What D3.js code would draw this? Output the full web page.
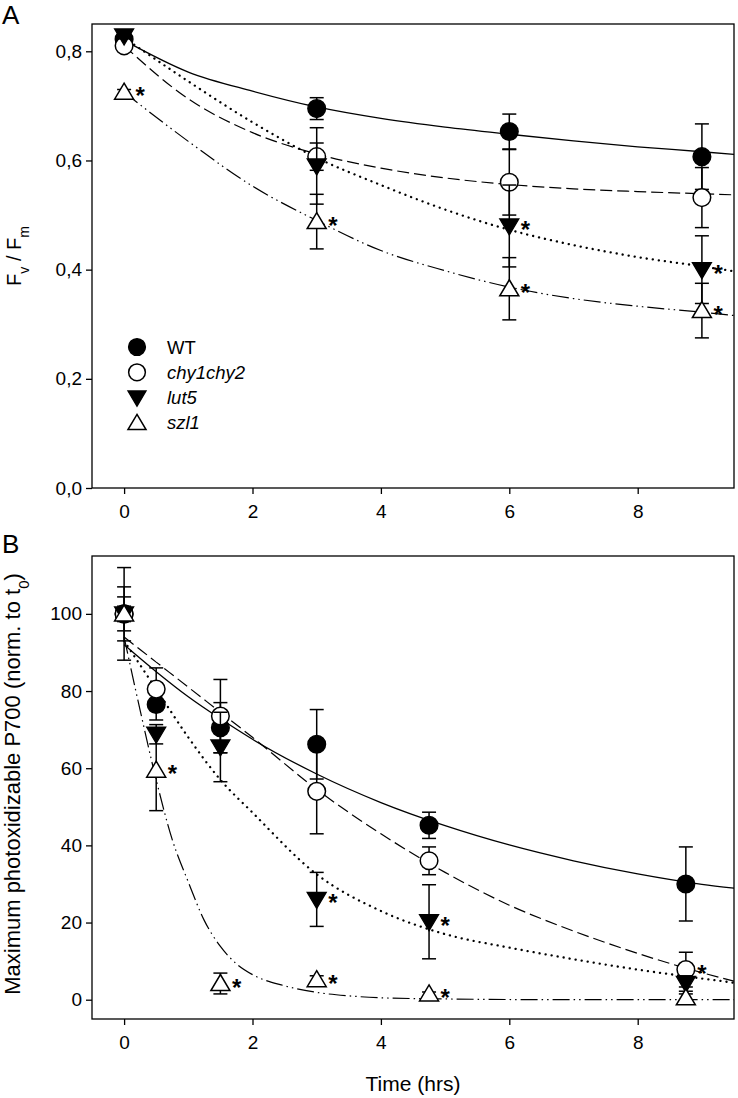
<!DOCTYPE html>
<html><head><meta charset="utf-8">
<script src="https://cdn.jsdelivr.net/npm/d3@7"></script>
<style>body{margin:0;background:#fff} text{font-family:"Liberation Sans",Arial,sans-serif;fill:#000}</style>
</head><body><svg id="c" width="738" height="1098"></svg>
<script>
// ---------- DATA ----------
const seriesNames = ["WT", "chy1chy2", "lut5", "szl1"];

// Panel A: Fv/Fm
const timesA = [0, 3, 6, 9];
const wtA   = [0.822, 0.695, 0.653, 0.607];
const chyA  = [0.810, 0.607, 0.560, 0.532];
const lutA  = [0.828, 0.590, 0.480, 0.400];
const szlA  = [0.725, 0.488, 0.365, 0.325];
const wtErrA  = [0.005, 0.020, 0.032, 0.060];
const chyErrA = [0.005, 0.025, 0.060, 0.055];
const lutErrA = [0.005, 0.070, 0.075, 0.062];
const szlErrA = [0.005, 0.050, 0.057, 0.050];
const starsA = [[3,0],[3,1],[2,2],[3,2],[2,3],[3,3]];

// fitted curves A
const fitTimesA = [0, 1, 2, 3, 4, 5, 6, 7, 8, 9, 9.5];
const wtFitA  = [0.820, 0.762, 0.727, 0.698, 0.677, 0.661, 0.648, 0.636, 0.625, 0.616, 0.611];
const chyFitA = [0.810, 0.713, 0.651, 0.612, 0.586, 0.568, 0.556, 0.548, 0.543, 0.539, 0.537];
const lutFitA = [0.825, 0.745, 0.670, 0.605, 0.555, 0.510, 0.473, 0.445, 0.423, 0.406, 0.397];
const szlFitA = [0.725, 0.635, 0.553, 0.490, 0.435, 0.398, 0.368, 0.347, 0.333, 0.322, 0.316];

// Panel B: P700
const timesB = [0, 0.5, 1.5, 3, 4.75, 8.75];
const wtB   = [100, 76.5, 70.5, 66.2, 45.2, 30.0];
const chyB  = [100, 80.5, 73.5, 54.0, 36.0, 7.8];
const lutB  = [100, 68.8, 65.5, 26.0, 20.2, 4.2];
const szlB  = [100, 59.5, 4.2, 5.2, 1.5, 0.5];
const wtErrB  = [12, 4, 6.5, 9, 3.4, 9.6];
const chyErrB = [7, 5.5, 9.5, 11, 3.6, 4.5];
const lutErrB = [4.4, 2.5, 9, 7, 9.6, 2];
const szlErrB = [2, 10.5, 2.7, 1, 0.5, 1];
const starsB = [[3,1],[3,2],[3,3],[3,4],[2,3],[2,4],[1,5]];

const fitTimesB = [0, 0.5, 1, 1.5, 2, 3, 4, 5, 6, 7, 8, 9, 9.5];
const wtFitB  = [92, 85, 78.5, 72.8, 67.5, 58.5, 51.1, 45.1, 40.1, 36.0, 32.6, 29.9, 28.9];
const chyFitB = [94, 87.5, 81, 74.5, 68, 54.5, 43, 33, 24.5, 17.8, 12, 7, 4.8];
const lutFitB = [93, 80.5, 68, 57, 48.5, 32.5, 23, 17, 13.5, 10.5, 7.8, 5.5, 4.4];
const szlFitTimesB = [0, 0.25, 0.5, 0.75, 1, 1.25, 1.5, 1.75, 2, 2.5, 3, 3.5, 4, 5, 6, 7, 8, 9, 9.5];
const szlFitB = [94, 75, 57, 41.5, 30.5, 20.5, 13.8, 9.3, 6.5, 3.6, 1.9, 1.0, 0.5, 0.2, 0.05, 0, 0, 0, 0];

const xTicks = [0, 2, 4, 6, 8];
const yTicksA = [0, 0.2, 0.4, 0.6, 0.8];
const yTicksB = [0, 20, 40, 60, 80, 100];

// ---------- DRAW ----------
const svg = d3.select("#c");
const styles = [
  {marker: "circle", fill: "#000", dash: null, width: 1.3, cap: "butt"},
  {marker: "circle", fill: "#fff", dash: "12,5", width: 1.2, cap: "butt"},
  {marker: "down", fill: "#000", dash: "0.1,6", width: 2.3, cap: "round"},
  {marker: "up", fill: "#fff", dash: "17,4,1.5,4,1.5,4", width: 1.2, cap: "butt"}
];

function marker(g, type, fill, cx, cy, s) {
  s = s || 1;
  if (type === "circle") {
    g.append("circle").attr("cx", cx).attr("cy", cy).attr("r", 8.8 * s)
      .attr("fill", fill).attr("stroke", "#000").attr("stroke-width", 1.5);
  } else if (type === "down") {
    g.append("path").attr("d", `M${cx-9.5*s},${cy-7*s}L${cx+9.5*s},${cy-7*s}L${cx},${cy+9*s}Z`)
      .attr("fill", fill).attr("stroke", "#000").attr("stroke-width", 1.3).attr("stroke-linejoin", "miter");
  } else {
    g.append("path").attr("d", `M${cx},${cy-9*s}L${cx+9.5*s},${cy+7*s}L${cx-9.5*s},${cy+7*s}Z`)
      .attr("fill", fill).attr("stroke", "#000").attr("stroke-width", 1.5).attr("stroke-linejoin", "miter");
  }
}

function panel(cfg) {
  const x = d3.scaleLinear().domain([-0.5, 9.5]).range([92, 734]);
  const y = d3.scaleLinear().domain(cfg.yDomain).range([cfg.bottom, cfg.top]);
  const g = svg.append("g");

  const xa = g.append("g").attr("transform", `translate(0,${cfg.bottom})`)
    .call(d3.axisBottom(x).tickValues(xTicks).tickSize(6).tickSizeOuter(0).tickPadding(11));
  const ya = g.append("g").attr("transform", `translate(92,0)`)
    .call(d3.axisLeft(y).tickValues(cfg.yTicks).tickSize(6).tickSizeOuter(0).tickPadding(4).tickFormat(cfg.fmt));
  [xa, ya].forEach(a => {
    a.select(".domain").remove();
    a.selectAll("line").attr("stroke", "#000").attr("stroke-width", 1.3);
    a.selectAll("text").attr("font-size", 19).attr("fill", "#000")
      .attr("font-family", '"Liberation Sans",Arial,sans-serif');
  });
  g.append("rect").attr("x", 92).attr("y", cfg.top).attr("width", 734 - 92).attr("height", cfg.bottom - cfg.top)
    .attr("fill", "none").attr("stroke", "#000").attr("stroke-width", 1.3);

  const clip = "clip" + cfg.id;
  svg.append("clipPath").attr("id", clip).append("rect")
    .attr("x", 92).attr("y", cfg.top).attr("width", 642).attr("height", cfg.bottom - cfg.top);

  cfg.series.forEach((s, i) => {
    const st = styles[i];
    const line = d3.line().x(d => x(d[0])).y(d => y(d[1])).curve(d3.curveMonotoneX);
    const pts = s.fitT.map((t, k) => [t, s.fit[k]]);
    g.append("path").attr("d", line(pts)).attr("fill", "none").attr("stroke", "#000")
      .attr("stroke-width", st.width).attr("stroke-dasharray", st.dash).attr("stroke-linecap", st.cap)
      .attr("clip-path", `url(#${clip})`);
  });

  cfg.series.forEach((s, i) => {
    const st = styles[i];
    const eg = g.append("g").attr("stroke", "#000").attr("stroke-width", 1.5);
    cfg.times.forEach((t, k) => {
      const cx = x(t), v = s.vals[k], e = s.err[k];
      const y1 = y(v + e), y2 = y(v - e);
      eg.append("line").attr("x1", cx).attr("x2", cx).attr("y1", y1).attr("y2", y2);
      eg.append("line").attr("x1", cx - 7).attr("x2", cx + 7).attr("y1", y1).attr("y2", y1);
      eg.append("line").attr("x1", cx - 7).attr("x2", cx + 7).attr("y1", y2).attr("y2", y2);
    });
    cfg.times.forEach((t, k) => marker(g, st.marker, st.fill, x(t), y(s.vals[k])));
  });

  cfg.stars.forEach(([si, k]) => {
    g.append("text").attr("x", x(cfg.times[k]) + 11.5).attr("y", y(cfg.series[si].vals[k]) + 12)
      .attr("font-size", 24).attr("font-weight", "bold").text("*");
  });
  return {x, y, g};
}

const fmtA = d => d3.format(".1f")(d).replace(".", ",");
panel({
  id: "A", top: 24, bottom: 488, yDomain: [0, 0.85], yTicks: yTicksA, fmt: fmtA, times: timesA,
  series: [
    {vals: wtA, err: wtErrA, fitT: fitTimesA, fit: wtFitA},
    {vals: chyA, err: chyErrA, fitT: fitTimesA, fit: chyFitA},
    {vals: lutA, err: lutErrA, fitT: fitTimesA, fit: lutFitA},
    {vals: szlA, err: szlErrA, fitT: fitTimesA, fit: szlFitA}
  ],
  stars: starsA
});
panel({
  id: "B", top: 556, bottom: 1019, yDomain: [-5, 115], yTicks: yTicksB, fmt: d3.format("d"), times: timesB,
  series: [
    {vals: wtB, err: wtErrB, fitT: fitTimesB, fit: wtFitB},
    {vals: chyB, err: chyErrB, fitT: fitTimesB, fit: chyFitB},
    {vals: lutB, err: lutErrB, fitT: fitTimesB, fit: lutFitB},
    {vals: szlB, err: szlErrB, fitT: szlFitTimesB, fit: szlFitB}
  ],
  stars: starsB
});

// legend
const leg = svg.append("g");
seriesNames.forEach((n, i) => {
  const yy = 347 + i * 25.3;
  marker(leg, styles[i].marker, styles[i].fill, 137, yy, 0.95);
  leg.append("text").attr("x", 167).attr("y", yy + 6.5).attr("font-size", 18.5)
    .attr("font-style", i === 0 ? "normal" : "italic").text(n);
});

// panel letters
svg.append("text").attr("x", 2).attr("y", 24).attr("font-size", 26).text("A");
svg.append("text").attr("x", 2).attr("y", 553).attr("font-size", 26).text("B");

// axis titles
const ta = svg.append("text").attr("transform", "translate(21,256) rotate(-90)")
  .attr("text-anchor", "middle").attr("font-size", 20);
ta.append("tspan").text("F");
ta.append("tspan").attr("font-size", 14).attr("baseline-shift", "sub").text("v");
ta.append("tspan").text(" / F");
ta.append("tspan").attr("font-size", 14).attr("baseline-shift", "sub").text("m");

const tb = svg.append("text").attr("transform", "translate(20,784) rotate(-90)")
  .attr("text-anchor", "middle").attr("font-size", 22);
tb.append("tspan").text("Maximum photoxidizable P700 (norm. to t");
tb.append("tspan").attr("font-size", 15).attr("baseline-shift", "sub").text("0");
tb.append("tspan").text(")");

svg.append("text").attr("x", 413).attr("y", 1091).attr("text-anchor", "middle")
  .attr("font-size", 21).text("Time (hrs)");
</script></body></html>
